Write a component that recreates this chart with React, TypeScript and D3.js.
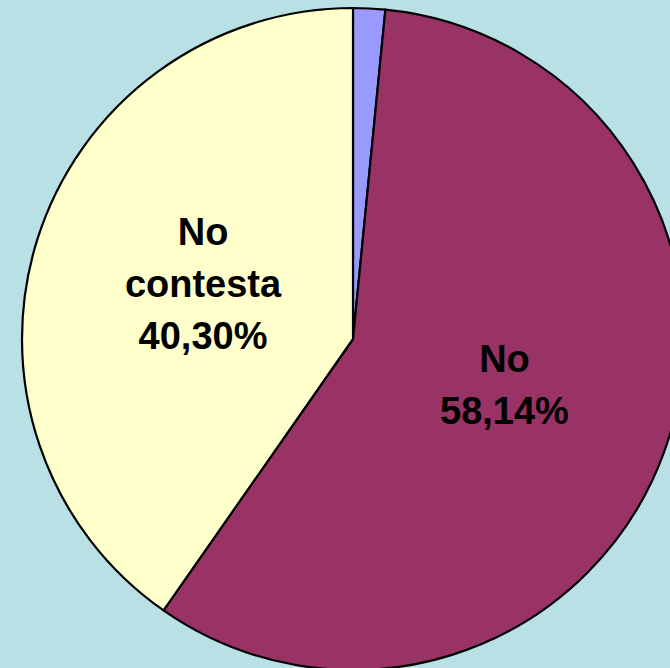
import React, { useEffect, useRef } from "react";
import * as d3 from "d3";

const categories = ["Sí", "No", "No contesta"];
const values = [1.56, 58.14, 40.3];
const labelLines = [[], ["No", "58,14%"], ["No", "contesta", "40,30%"]];
const colors = ["#9999FF", "#993366", "#FFFFCC"];

export default function App() {
  const ref = useRef<SVGSVGElement>(null);

  useEffect(() => {
    const width = 670;
    const height = 668;
    const cx = 353;
    const cy = 339;
    const radius = 331;
    const fontSize = 38;
    const lineHeight = 52;

    const svg = d3.select(ref.current);
    svg.selectAll("*").remove();

    svg
      .append("rect")
      .attr("width", width)
      .attr("height", height)
      .attr("fill", "#B9E0E5");

    const data = categories.map((c, i) => ({ name: c, value: values[i], i }));

    const pie = d3
      .pie<any>()
      .sort(null)
      .value((d: any) => d.value);

    const arc = d3.arc<any>().innerRadius(0).outerRadius(radius);
    const labelArc = d3
      .arc<any>()
      .innerRadius(radius * 0.475)
      .outerRadius(radius * 0.475);

    const g = svg.append("g").attr("transform", `translate(${cx},${cy})`);
    const arcs = pie(data);

    g.selectAll(".slice")
      .data(arcs)
      .join("path")
      .attr("class", "slice")
      .attr("d", arc)
      .attr("fill", (d: any) => colors[d.data.i])
      .attr("stroke", "#000")
      .attr("stroke-width", 2.2)
      .attr("stroke-linejoin", "round");

    arcs.forEach((d: any) => {
      const lines = labelLines[d.data.i];
      if (!lines.length) return;
      const [lx, ly] = labelArc.centroid(d);
      const text = g
        .append("text")
        .attr("text-anchor", "middle")
        .attr("font-family", "'Liberation Sans', Arial, sans-serif")
        .attr("font-weight", "bold")
        .attr("font-size", fontSize)
        .attr("fill", "#000");
      // nudge the block up a little, as the original does
      const top = ly - ((lines.length - 1) * lineHeight) / 2 + fontSize * 0.36 - 9;
      lines.forEach((t: string, k: number) => {
        text
          .append("tspan")
          .attr("x", lx + (d.data.i === 1 ? 4 : 0))
          .attr("y", top + k * lineHeight)
          .text(t);
      });
    });
  }, []);

  return (
    <svg
      ref={ref}
      width={670}
      height={668}
      style={{ position: "absolute", left: 0, top: 0, display: "block" }}
    />
  );
}
